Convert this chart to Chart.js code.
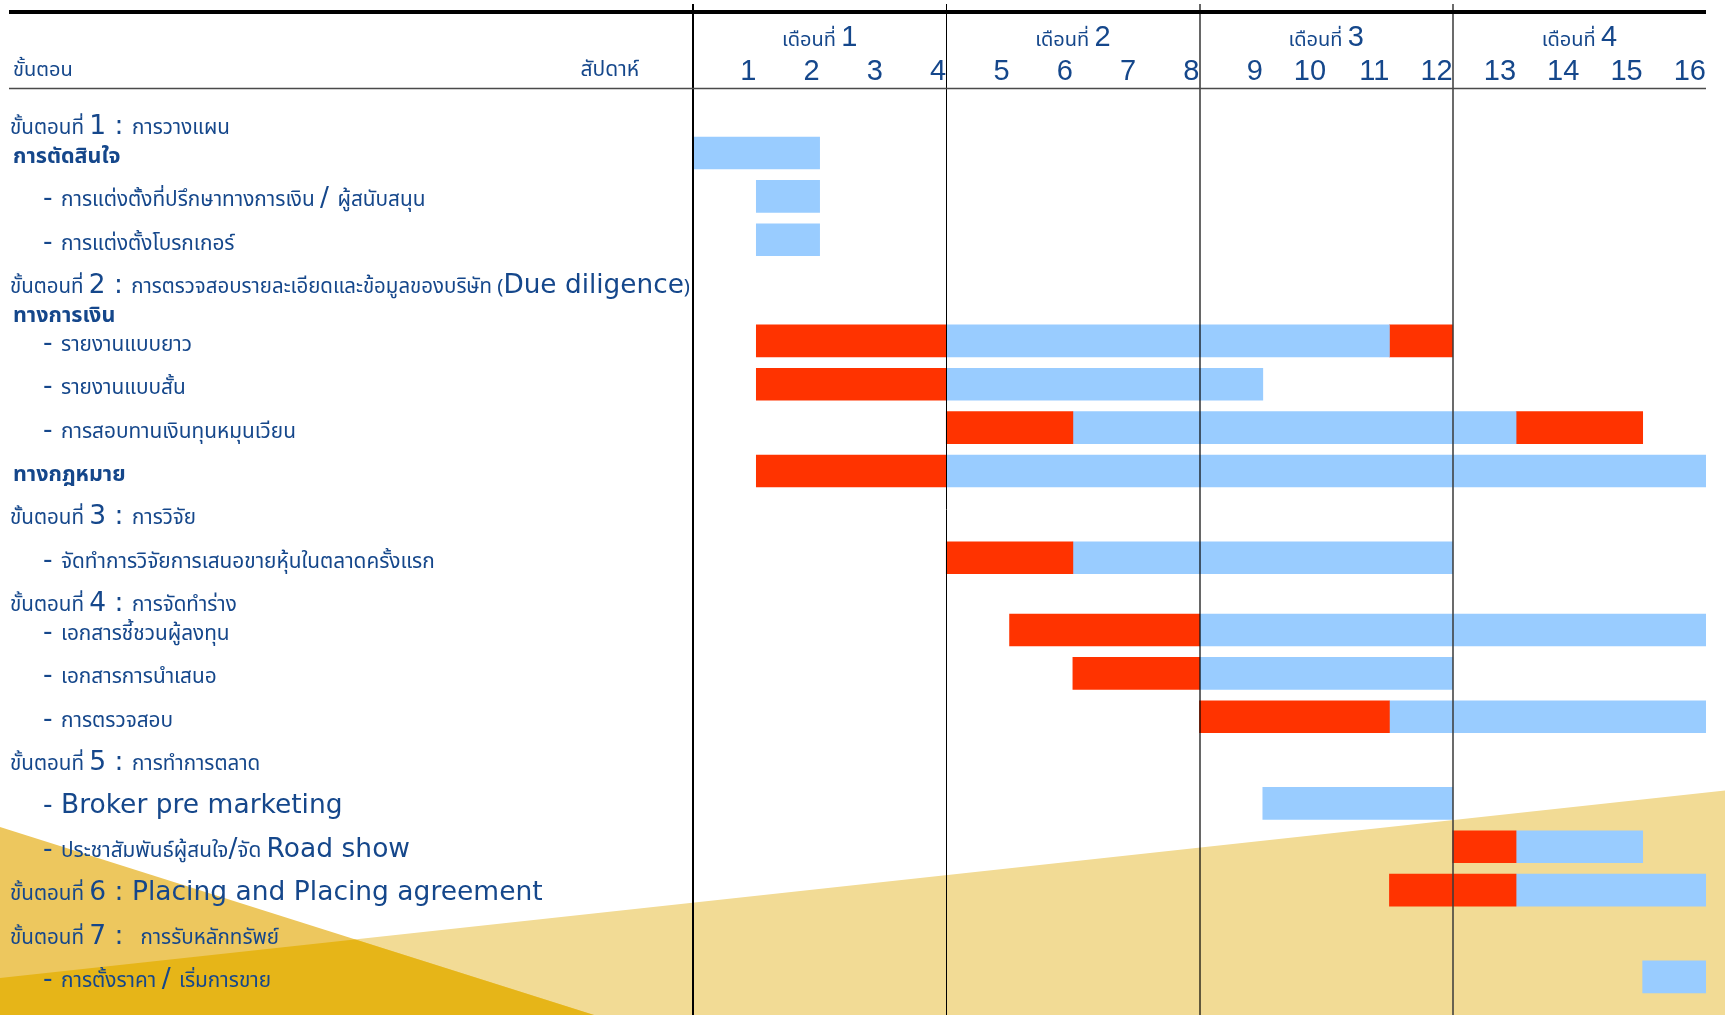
<!DOCTYPE html>
<html><head><meta charset="utf-8">
<script src="https://cdn.jsdelivr.net/npm/chart.js@4.4.1/dist/chart.umd.min.js"></script>
<style>html,body{margin:0;padding:0;background:#fff}#wrap{width:1725px;height:1015px;position:relative;overflow:hidden}</style>
</head><body><div id="wrap"><canvas id="c" width="1725" height="1015"></canvas></div>
<script>
// ---------------- DATA ----------------
const weekLabels = ['1','2','3','4','5','6','7','8','9','10','11','12','13','14','15','16'];
const monthLabels = ['เดือนที่ 1','เดือนที่ 2','เดือนที่ 3','เดือนที่ 4'];
const headerStep = 'ขั้นตอน';
const headerWeek = 'สัปดาห์';

const rowLabels = [
  'ขั้นตอนที่ 1 : การวางแผน',
  'การตัดสินใจ',
  '- การแต่งตั้งที่ปรึกษาทางการเงิน / ผู้สนับสนุน',
  '- การแต่งตั้งโบรกเกอร์',
  'ขั้นตอนที่ 2 : การตรวจสอบรายละเอียดและข้อมูลของบริษัท (Due diligence)',
  'ทางการเงิน',
  '- รายงานแบบยาว',
  '- รายงานแบบสั้น',
  '- การสอบทานเงินทุนหมุนเวียน',
  'ทางกฎหมาย',
  'ขั้นตอนที่ 3 : การวิจัย',
  '- จัดทำการวิจัยการเสนอขายหุ้นในตลาดครั้งแรก',
  'ขั้นตอนที่ 4 : การจัดทำร่าง',
  '- เอกสารชี้ชวนผู้ลงทุน',
  '- เอกสารการนำเสนอ',
  '- การตรวจสอบ',
  'ขั้นตอนที่ 5 : การทำการตลาด',
  '- Broker pre marketing',
  '- ประชาสัมพันธ์ผู้สนใจ/จัด Road show',
  'ขั้นตอนที่ 6 : Placing and Placing agreement',
  'ขั้นตอนที่ 7 :  การรับหลักทรัพย์',
  '- การตั้งราคา / เริ่มการขาย'
];
const rowKinds = ['step','group','item','item','step','group','item','item','item','group',
  'step','item','step','item','item','item','step','item','item','step','step','item'];

// rows that carry bars (weeks, start -> end)
const taskRows = [
  'การตัดสินใจ',
  '- การแต่งตั้งที่ปรึกษาทางการเงิน / ผู้สนับสนุน',
  '- การแต่งตั้งโบรกเกอร์',
  '- รายงานแบบยาว',
  '- รายงานแบบสั้น',
  '- การสอบทานเงินทุนหมุนเวียน',
  'ทางกฎหมาย',
  '- จัดทำการวิจัยการเสนอขายหุ้นในตลาดครั้งแรก',
  '- เอกสารชี้ชวนผู้ลงทุน',
  '- เอกสารการนำเสนอ',
  '- การตรวจสอบ',
  '- Broker pre marketing',
  '- ประชาสัมพันธ์ผู้สนใจ/จัด Road show',
  'ขั้นตอนที่ 6 : Placing and Placing agreement',
  '- การตั้งราคา / เริ่มการขาย'
];
const redPhase = [null, null, null, [1,4], [1,4], [4,6], [1,4], [4,6], [5,8], [6,8], [8,11], null, [12,13], [11,13], null];
const bluePhase = [[0,2], [1,2], [1,2], [4,11], [4,9], [6,13], [4,16], [6,12], [8,16], [8,12], [11,16], [9,12], [13,15], [13,16], [15,16]];
const redLatePhase = [null, null, null, [11,12], null, [13,15], null, null, null, null, null, null, null, null, null];

// ---------------- LAYOUT (vertical line grid of the slide) ----------------
const rowGapUnits = [2,3,3,3,2,2,3,3,3,3,3,3,2,3,3,3,3,3,3,3,3];
const LEAD = 2, TRAIL = 2;
const rowUnit = [0];
rowGapUnits.forEach((g, i) => rowUnit.push(rowUnit[i] + g));
const nCats = LEAD + rowUnit[rowUnit.length - 1] + 1 + TRAIL;
const yCats = [];
for (let k = 0; k < nCats; k++) yCats.push('\u200b' + k);
rowLabels.forEach((lab, i) => { yCats[LEAD + rowUnit[i]] = lab; });

const THAI = '"Noto Sans Thai","Noto Sans Thai UI","Loma","Garuda","Tlwg Typo","Noto Sans",sans-serif';
const LATIN = '"DejaVu Sans","Liberation Sans",sans-serif';
const DIGITS = '"Liberation Sans","DejaVu Sans",sans-serif';
const TXT = '#15478B';
const BLUE = '#99CCFF', RED = '#FF3300';

function toData(arr) {
  return arr.map((v, i) => v ? { x: v, y: taskRows[i] } : null).filter(Boolean);
}

function isThai(ch) { return /[\u0E00-\u0E7F()]/.test(ch); }
function splitRuns(text) {
  const runs = [];
  for (const ch of text) {
    const t = ch === ' ' ? (runs.length ? runs[runs.length - 1].thai : isThai(text.trim()[0])) : isThai(ch);
    if (runs.length && runs[runs.length - 1].thai === t) runs[runs.length - 1].s += ch;
    else runs.push({ thai: t, s: ch });
  }
  return runs;
}
function drawRich(ctx, text, x, y, thaiFont, latinFont, align, maxW) {
  const runs = splitRuns(text);
  let total = 0;
  runs.forEach(r => { ctx.font = r.thai ? thaiFont : latinFont; r.w = ctx.measureText(r.s).width; total += r.w; });
  let sx = 1;
  if (maxW && total > maxW) sx = maxW / total;
  let start = x;
  if (align === 'right') start = x - total * sx;
  else if (align === 'center') start = x - total * sx / 2;
  ctx.save();
  ctx.translate(start, y);
  ctx.scale(sx, 1);
  ctx.textAlign = 'left';
  ctx.textBaseline = 'alphabetic';
  ctx.fillStyle = TXT;
  let cx = 0;
  runs.forEach(r => { ctx.font = r.thai ? thaiFont : latinFont; ctx.fillText(r.s, cx, 0); cx += r.w; });
  ctx.restore();
}

const ganttDecor = {
  id: 'ganttDecor',
  beforeDraw(chart) {
    const c = chart.ctx, W = chart.width, H = chart.height;
    c.save();
    c.fillStyle = '#fff'; c.fillRect(0, 0, W, H);
    const lightPoly = () => { c.beginPath(); c.moveTo(0, 978); c.lineTo(W, 790.5); c.lineTo(W, H); c.lineTo(0, H); c.closePath(); };
    lightPoly(); c.fillStyle = '#F2DB95'; c.fill();
    c.beginPath(); c.moveTo(0, 827); c.lineTo(594, H); c.lineTo(0, H); c.closePath();
    c.fillStyle = '#EDC75E'; c.fill();
    c.clip();
    lightPoly(); c.fillStyle = '#E6B518'; c.fill();
    c.restore();
  },
  afterDatasetsDraw(chart) {
    const c = chart.ctx, xs = chart.scales.x, H = chart.height;
    const right = xs.getPixelForValue(16);
    c.save();
    // month separators over the bars
    [[0, 2, '#000'], [4, 1, '#000'], [8, 1.2, '#000'], [12, 1.5, '#3a3a3a']].forEach(([v, w, col]) => {
      const px = Math.round(xs.getPixelForValue(v)) + (w === 1 ? 0.5 : 0);
      c.beginPath(); c.moveTo(px, 4); c.lineTo(px, H); c.lineWidth = w; c.strokeStyle = col; c.stroke();
    });
    c.beginPath(); c.moveTo(9, 12); c.lineTo(right, 12); c.lineWidth = 4; c.strokeStyle = '#000'; c.stroke();
    c.beginPath(); c.moveTo(9, 88.5); c.lineTo(right, 88.5); c.lineWidth = 1.5; c.strokeStyle = '#4a4a4a'; c.stroke();
    c.restore();
  },
  afterDraw(chart) {
    const c = chart.ctx, xs = chart.scales.x, ys = chart.scales.y;
    // headers
    drawRich(c, headerStep, 13, 76, '20px ' + THAI, '20px ' + LATIN, 'left');
    drawRich(c, headerWeek, 639, 76, '21px ' + THAI, '21px ' + LATIN, 'right');
    monthLabels.forEach((m, i) => {
      const cx = (xs.getPixelForValue(i * 4) + xs.getPixelForValue(i * 4 + 4)) / 2;
      drawRich(c, m, cx, 46, '20px ' + THAI, '29px ' + DIGITS, 'center');
    });
    // row labels
    rowLabels.forEach((lab, i) => {
      const y = ys.getPixelForValue(LEAD + rowUnit[i]) + 10;
      const kind = rowKinds[i];
      if (kind === 'step') drawRich(c, lab, 10, y, '20.6px ' + THAI, '26.5px ' + LATIN, 'left', 680);
      else if (kind === 'group') drawRich(c, lab, 13, y, 'bold 21.5px ' + THAI, 'bold 24px ' + LATIN, 'left');
      else drawRich(c, lab, 43, y, '20.8px ' + THAI, '26.5px ' + LATIN, 'left', 640);
    });
  }
};

const ds = (label, arr, color) => ({
  label, data: toData(arr), backgroundColor: color, borderWidth: 0,
  barThickness: 32, grouped: false, borderSkipped: false
});

new Chart(document.getElementById('c'), {
  type: 'bar',
  data: {
    labels: yCats,
    datasets: [ds('ช่วงเร่งด่วน', redPhase, RED), ds('ช่วงดำเนินการ', bluePhase, BLUE), ds('ช่วงเร่งด่วน 2', redLatePhase, RED)]
  },
  options: {
    indexAxis: 'y', responsive: false, animation: false,
    layout: { padding: { left: 693, right: 19, top: 0, bottom: 2 } },
    plugins: { legend: { display: false }, tooltip: { enabled: false } },
    scales: {
      x: {
        type: 'linear', position: 'top', min: 0, max: 16,
        grid: { display: false }, border: { display: false },
        ticks: {
          stepSize: 1, autoSkip: false, maxRotation: 0, align: 'end', padding: -9,
          color: TXT, font: { family: DIGITS, size: 29 },
          callback: v => (v > 0 ? weekLabels[v - 1] : '')
        },
        afterFit: s => { s.height = 88; }
      },
      y: { type: 'category', display: false, offset: true }
    }
  },
  plugins: [ganttDecor]
});
</script></body></html>
